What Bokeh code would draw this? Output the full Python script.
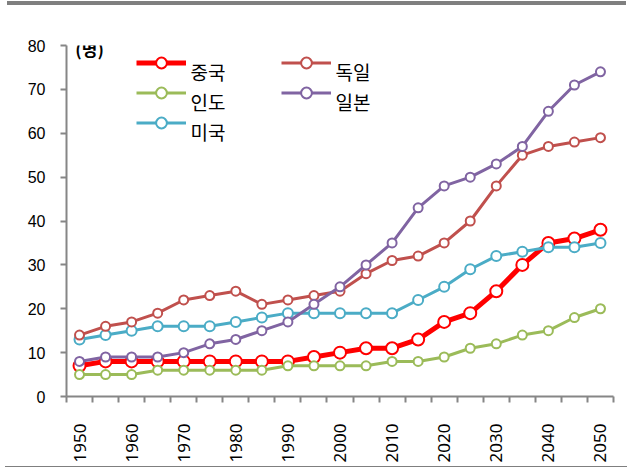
from bokeh.plotting import figure
from bokeh.models import Range1d, FixedTicker, Legend, LegendItem, Label, Div
from bokeh.layouts import column
from bokeh.embed import file_html
from bokeh.resources import INLINE

years = [1950, 1955, 1960, 1965, 1970, 1975, 1980, 1985, 1990, 1995, 2000,
         2005, 2010, 2015, 2020, 2025, 2030, 2035, 2040, 2045, 2050]
china = [7, 8, 8, 8, 8, 8, 8, 8, 8, 9, 10, 11, 11, 13, 17, 19, 24, 30, 35, 36, 38]
india = [5, 5, 5, 6, 6, 6, 6, 6, 7, 7, 7, 7, 8, 8, 9, 11, 12, 14, 15, 18, 20]
usa = [13, 14, 15, 16, 16, 16, 17, 18, 19, 19, 19, 19, 19, 22, 25, 29, 32, 33, 34, 34, 35]
germany = [14, 16, 17, 19, 22, 23, 24, 21, 22, 23, 24, 28, 31, 32, 35, 40, 48, 55, 57, 58, 59]
japan = [8, 9, 9, 9, 10, 12, 13, 15, 17, 21, 25, 30, 35, 43, 48, 50, 53, 57, 65, 71, 74]

label_years = [1950, 1960, 1970, 1980, 1990, 2000, 2010, 2020, 2030, 2040, 2050]
boundaries = [y - 2.5 for y in years] + [years[-1] + 2.5]
y_ticks = [0, 10, 20, 30, 40, 50, 60, 70, 80]

series = [
    ("중국", china, "#FF0000", 5, 12),
    ("인도", india, "#9BBB59", 3, 9),
    ("미국", usa, "#4BACC6", 3, 10),
    ("독일", germany, "#C0504D", 3, 9),
    ("일본", japan, "#8064A2", 3, 9),
]
# legend slot: (glyph x, glyph y, text x, text y) in frame pixels
legend_slots = [(70, 320, 124, 325), (70, 290, 124, 295), (70, 260, 124, 265),
                (215, 320, 269, 325), (215, 290, 269, 295)]

AXIS = "#868686"
RULE = "#7F7F7F"
KFONT = "Noto Sans CJK KR"

top_bar = Div(text="", width=619, height=4, margin=(1, 0, 0, 7),
              sizing_mode="fixed",
              styles={"background-color": RULE, "width": "619px",
                      "height": "4px", "min-width": "619px"})
bottom_bar = Div(text="", width=622, height=1, margin=(1, 0, 0, 5),
                 sizing_mode="fixed",
                 styles={"background-color": RULE, "width": "622px",
                         "height": "1px", "min-width": "622px"})

p = figure(width=627, height=460, output_backend="svg", toolbar_location=None,
           title=None,
           x_range=Range1d(years[0] - 2.5, years[-1] + 2.5),
           y_range=Range1d(0, 80),
           min_border_left=66, min_border_right=14, min_border_top=40,
           min_border_bottom=67)
p.outline_line_color = None
p.grid.visible = False
p.background_fill_color = "white"
p.border_fill_color = "white"

# x axis
xa = p.xaxis[0]
xa.ticker = FixedTicker(ticks=label_years, minor_ticks=boundaries)
xa.major_tick_out = 0
xa.major_tick_in = 0
xa.minor_tick_out = 6
xa.minor_tick_in = 0
xa.minor_tick_line_color = AXIS
xa.minor_tick_line_width = 2
xa.axis_line_color = AXIS
xa.axis_line_width = 2
xa.major_label_orientation = 3.14159265 / 2
xa.major_label_standoff = 21
xa.major_label_text_font = "Noto Sans"
xa.major_label_text_font_size = "17px"
xa.major_label_text_color = "#000000"

# y axis
ya = p.yaxis[0]
ya.ticker = FixedTicker(ticks=y_ticks)
ya.major_tick_out = 6
ya.major_tick_in = 0
ya.minor_tick_line_color = None
ya.major_tick_line_color = AXIS
ya.major_tick_line_width = 2
ya.axis_line_color = AXIS
ya.axis_line_width = 2
ya.major_label_standoff = 15
ya.major_label_text_font = "Liberation Sans"
ya.major_label_text_font_size = "16px"
ya.major_label_text_color = "#000000"

for (name, vals, color, lw, ms), (gx, gy, tx, ty) in zip(series, legend_slots):
    ln = p.line(years, vals, line_color=color, line_width=lw, line_join="round")
    sc = p.scatter(years, vals, marker="circle", size=ms, fill_color="white",
                   line_color=color, line_width=2)
    lg = Legend(items=[LegendItem(label="", renderers=[ln, sc])],
                location=(gx, gy), orientation="vertical",
                glyph_width=50, glyph_height=27, label_standoff=0,
                label_width=0, label_height=27, spacing=0, padding=0, margin=0,
                border_line_color=None, background_fill_alpha=0,
                label_text_font_size="1px")
    p.add_layout(lg, "center")
    p.add_layout(Label(x=tx, y=ty, x_units="screen", y_units="screen",
                       text=name, text_font=KFONT, text_font_size="19px",
                       text_baseline="middle", text_align="left",
                       text_color="#000000"))

p.add_layout(Label(x=1949.2, y=79.4, text="(명)", text_font=KFONT,
                   text_font_style="bold", text_font_size="17px",
                   text_baseline="middle", text_color="#000000"))

layout = column(top_bar, p, bottom_bar, spacing=0)

open("out.html", "w").write(file_html(layout, INLINE))
